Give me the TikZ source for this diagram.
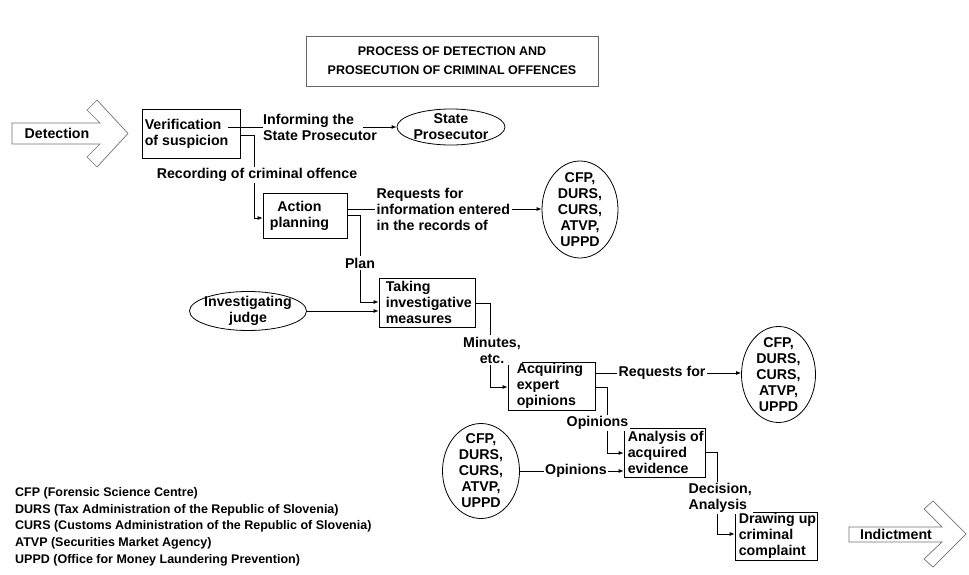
\documentclass[tikz,border=0pt]{standalone}
\usepackage{fontspec}
\setmainfont{Liberation Sans}
\usetikzlibrary{shapes.geometric,arrows.meta}
\begin{document}
\begin{tikzpicture}[x=1pt,y=-1pt,
  every node/.style={inner sep=0pt},
  txt/.style={font=\bfseries\fontsize{14.2}{16}\selectfont, align=left},
  ctxt/.style={font=\bfseries\fontsize{14.2}{16}\selectfont, align=center},
  frame/.style={draw=black, line width=0.8pt},
  ell/.style={draw=black, line width=0.8pt, ellipse, inner sep=0pt},
  lbl/.style={font=\bfseries\fontsize{14.2}{16}\selectfont, fill=white, inner sep=1.5pt},
  conn/.style={draw=black, line width=0.8pt},
  arr/.style={conn, -{Latex[length=5pt,width=4pt]}},
  bigarrow/.style={draw=black!55, line width=0.7pt, fill=white}
]
\fill[white] (0,0) rectangle (969,575);
\useasboundingbox (0,0) rectangle (969,575);

% title
\node[draw=black!60, line width=0.7pt, minimum width=292pt, minimum height=50pt] (title) at (452,61) {};
\node[font=\bfseries\fontsize{12.5}{19}\selectfont, align=center] (titlet) at (title) {PROCESS OF DETECTION AND\\PROSECUTION OF CRIMINAL OFFENCES};

% block arrows
\draw[bigarrow] (12,123) -- (100,123) -- (87,110) -- (97,100) -- (128,133.5) -- (97,167) -- (87,157) -- (100,144) -- (12,144) -- cycle;
\node[ctxt] (det) at (57,133.5) {Detection};
\draw[bigarrow] (849,527) -- (942,527) -- (924,509) -- (933,501) -- (966,534) -- (933,567) -- (924,559) -- (942,542) -- (849,542) -- cycle;
\node[ctxt] (ind) at (896,534) {Indictment};

% frames
\node[frame, minimum width=98pt, minimum height=49pt] (ver) at (191,133.5) {};
\node[ell, minimum width=108pt, minimum height=36pt] (sp) at (451,127) {};
\node[frame, minimum width=84pt, minimum height=45pt] (act) at (305,215.5) {};
\node[ell, minimum width=76pt, minimum height=97pt] (cfpa) at (580,209.5) {};
\node[frame, minimum width=96pt, minimum height=49pt] (take) at (427,302.5) {};
\node[ell, minimum width=117pt, minimum height=39pt] (judge) at (248,311) {};
\node[frame, minimum width=87pt, minimum height=48pt] (acq) at (551.5,386) {};
\node[ell, minimum width=74pt, minimum height=96pt] (cfpb) at (778.5,374.5) {};
\node[frame, minimum width=81pt, minimum height=49pt] (ana) at (664.5,452.5) {};
\node[ell, minimum width=77pt, minimum height=95pt] (cfpc) at (481,471) {};
\node[frame, minimum width=82pt, minimum height=48pt] (drw) at (776,536) {};

% free ends
\coordinate (v1) at (228,127);
\coordinate (v2) at (363,127);

% connectors
\node[txt, anchor=west] (inf) at (263,127) {Informing the\\State Prosecutor};
\draw[conn] (v1) -- (inf.west);
\draw[arr] (v2) -- (sp.west);
\draw[arr] (ver.east |- 0,135) -| (254.5,218) -- (act.west |- 0,218);
\draw[arr] (act.east |- 0,209) -- (cfpa.west |- 0,209);
\draw[arr] (act.east |- 0,215) -| (360,302) -- (take.west |- 0,302);
\draw[arr] (judge.east) -- (take.west |- judge.east);
\draw[arr] (take.east |- 0,303) -| (490,387) -- (acq.west |- 0,387);
\draw[arr] (acq.east |- 0,373) -- (cfpb.west |- 0,373);
\draw[arr] (acq.east |- 0,387) -| (607,453) -- (ana.west |- 0,453);
\draw[arr] (cfpc.east) -- (ana.west |- cfpc.east);
\draw[arr] (ana.east |- 0,452) -| (717,534) -- (drw.west |- 0,534);

% connector labels
\node[lbl, align=center] (rec) at (257,175) {Recording of criminal offence};
\node[lbl, align=left, anchor=west] (req) at (375,209) {Requests for\\information entered\\in the records of};
\node[lbl, align=center] (plan) at (360,263) {Plan};
\node[lbl, align=center] (min) at (492,350) {Minutes,\\etc.};
\node[lbl, anchor=west] (reqb) at (617,373) {Requests for};
\node[lbl] (opa) at (597.5,423) {Opinions};
\node[lbl] (opb) at (576,471) {Opinions};
\node[lbl, align=left, anchor=west] (dec) at (687,498) {Decision,\\Analysis};

% node texts
\node[txt, anchor=west] (vert) at ([xshift=3pt]ver.west) {Verification\\of suspicion};
\node[ctxt] (spt) at (sp) {State\\Prosecutor};
\node[ctxt] (actt) at ([xshift=-5.5pt]act.center) {Action\\planning};
\node[ctxt] (cfpat) at (cfpa) {CFP,\\DURS,\\CURS,\\ATVP,\\UPPD};
\node[txt, anchor=west] (taket) at ([xshift=7pt]take.west) {Taking\\investigative\\measures};
\node[ctxt] (judget) at (judge) {Investigating\\judge};
\node[txt, anchor=west] (acqt) at ([xshift=9pt]acq.west) {Acquiring\\expert\\opinions};
\node[ctxt] (cfpbt) at (cfpb) {CFP,\\DURS,\\CURS,\\ATVP,\\UPPD};
\node[txt, anchor=west] (anat) at ([xshift=4pt]ana.west) {Analysis of\\acquired\\evidence};
\node[ctxt] (cfpct) at (cfpc) {CFP,\\DURS,\\CURS,\\ATVP,\\UPPD};
\node[txt, anchor=west] (drwt) at ([xshift=4pt]drw.west) {Drawing up\\criminal\\complaint};

% legend
\node[font=\bfseries\fontsize{12.5}{16.7}\selectfont, align=left, anchor=west] (legend) at (15,526.5) {CFP (Forensic Science Centre)\\DURS (Tax Administration of the Republic of Slovenia)\\CURS (Customs Administration of the Republic of Slovenia)\\ATVP (Securities Market Agency)\\UPPD (Office for Money Laundering Prevention)};
\end{tikzpicture}
\end{document}
